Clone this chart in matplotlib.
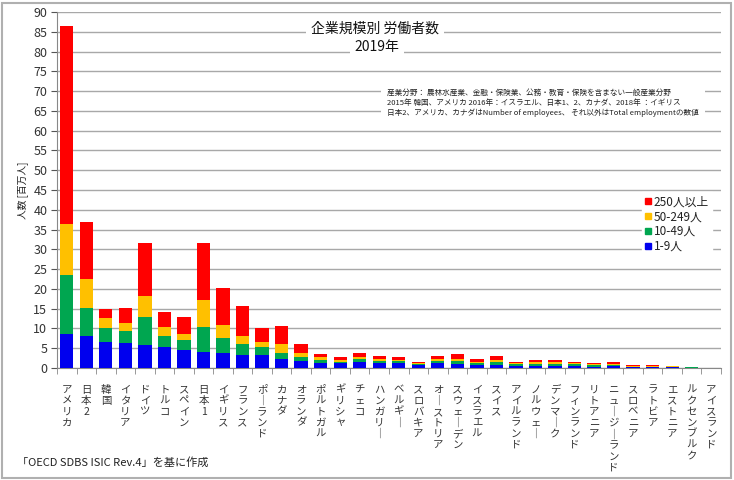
import matplotlib
matplotlib.use("Agg")
import matplotlib.pyplot as plt
from matplotlib.lines import Line2D
from matplotlib.patches import Rectangle
import numpy as np

plt.rcParams['font.family'] = ['Noto Sans CJK JP', 'DejaVu Sans']

# 国別（左から順）
countries = ["アメリカ", "日本2", "韓国", "イタリア", "ドイツ", "トルコ", "スペイン", "日本1",
             "イギリス", "フランス", "ポーランド", "カナダ", "オランダ", "ポルトガル", "ギリシャ",
             "チェコ", "ハンガリー", "ベルギー", "スロバキア", "オーストリア", "スウェーデン",
             "イスラエル", "スイス", "アイルランド", "ノルウェー", "デンマーク", "フィンランド",
             "リトアニア", "ニュージーランド", "スロベニア", "ラトビア", "エストニア",
             "ルクセンブルク", "アイスランド"]

# 百万人
size_1_9 = [8.7, 8.1, 6.6, 6.2, 5.8, 5.3, 4.5, 4.1, 3.7, 3.3, 3.3, 2.2, 1.7, 1.35, 1.2,
            1.4, 1.3, 1.2, 0.85, 1.2, 1.0, 0.85, 0.85, 0.6, 0.6, 0.6, 0.5, 0.35, 0.4,
            0.2, 0.2, 0.15, 0.08, 0.0]
size_10_49 = [14.9, 7.1, 3.4, 3.2, 7.2, 2.8, 2.7, 6.3, 3.8, 2.7, 1.9, 1.5, 1.2, 0.75, 0.4,
              0.8, 0.5, 0.5, 0.2, 0.5, 0.8, 0.4, 0.6, 0.4, 0.5, 0.5, 0.4, 0.35, 0.4,
              0.15, 0.15, 0.15, 0.08, 0.0]
size_50_249 = [12.8, 7.2, 2.7, 2.0, 5.2, 2.3, 1.4, 6.8, 3.3, 2.1, 1.4, 2.3, 1.0, 0.6, 0.4,
               0.5, 0.4, 0.3, 0.2, 0.5, 0.6, 0.3, 0.6, 0.3, 0.4, 0.4, 0.3, 0.3, 0.3,
               0.15, 0.15, 0.1, 0.07, 0.0]
size_250 = [50.1, 14.6, 2.3, 3.8, 13.3, 3.8, 4.3, 14.3, 9.3, 7.6, 3.4, 4.6, 2.2, 0.9, 0.7,
            1.1, 0.8, 0.9, 0.3, 0.8, 1.2, 0.6, 0.9, 0.3, 0.4, 0.4, 0.4, 0.2, 0.3,
            0.2, 0.15, 0.1, 0.1, 0.0]

series = [("1-9人", size_1_9, "#0000ee"),
          ("10-49人", size_10_49, "#00a650"),
          ("50-249人", size_50_249, "#ffc000"),
          ("250人以上", size_250, "#ff0000")]


def tate(s):
    # 縦書き風：1文字ずつ改行、長音は縦棒に
    return "\n".join("｜" if c == "ー" else c for c in s)


fig = plt.figure(figsize=(7.34, 4.8), dpi=100)
ax = fig.add_axes([57 / 734, 1 - 368 / 480, (721 - 57) / 734, (368 - 12) / 480])

x = np.arange(len(countries))
bottom = np.zeros(len(countries))
for name, vals, col in series:
    ax.bar(x, vals, 0.68, bottom=bottom, color=col, zorder=3)
    bottom += np.array(vals)

ax.set_xlim(-0.5, len(countries) - 0.5)
ax.set_ylim(0, 90)
ax.set_yticks(np.arange(0, 91, 5))
ax.grid(axis="y", color="#a8a8a8", linewidth=1.0, zorder=0)
ax.tick_params(axis="y", labelsize=9, colors="#555555", labelcolor="#333333", length=4, pad=3)

ax.set_xticks(x)
ax.set_xticklabels([tate(c) for c in countries], fontsize=7.5, color="#333333",
                   linespacing=1.12, va="top")
ax.set_xticks(np.arange(-0.5, len(countries), 1), minor=True)
ax.tick_params(axis="x", which="major", length=0, pad=12)
ax.tick_params(axis="x", which="minor", length=4, color="#888888")

for s in ["top", "right"]:
    ax.spines[s].set_visible(False)
ax.spines["left"].set_color("#888888")
ax.spines["bottom"].set_color("#888888")

ax.set_ylabel("人数 [百万人]", fontsize=7, color="#222222", labelpad=4)

# タイトル
fig.text(375 / 734, 1 - 29 / 480, "企業規模別 労働者数", ha="center", va="center",
         fontsize=10, color="#111111",
         bbox=dict(boxstyle="square,pad=0.35", facecolor="white", edgecolor="none"))
fig.text(377 / 734, 1 - 47 / 480, "2019年", ha="center", va="center", fontsize=10,
         color="#111111",
         bbox=dict(boxstyle="square,pad=0.3", facecolor="white", edgecolor="none"))

note = ("産業分野： 農林水産業、金融・保険業、公務・教育・保険を含まない一般産業分野\n"
        "2015年 韓国、アメリカ 2016年：イスラエル、日本1、2、カナダ、2018年 ：イギリス\n"
        "日本2、アメリカ、カナダはNumber of employees、 それ以外はTotal employmentの数値")
fig.text(387 / 734, 1 - 103 / 480, note, ha="left", va="center", fontsize=5.5,
         color="#222222", linespacing=1.3,
         bbox=dict(boxstyle="square,pad=0.8", facecolor="white", edgecolor="none"))

handles = [Line2D([], [], marker="s", linestyle="none", markersize=4,
                  markerfacecolor=col, markeredgecolor=col) for _, _, col in series[::-1]]
labels = [name for name, _, _ in series[::-1]]
leg = ax.legend(handles, labels, loc="upper left", bbox_to_anchor=(636 / 734, 1 - 186 / 480),
                bbox_transform=fig.transFigure, frameon=True, fancybox=False,
                edgecolor="white", facecolor="white", framealpha=1, fontsize=8.5,
                handlelength=0.5, handletextpad=0.2, labelspacing=0.15, borderpad=0.3)
for t in leg.get_texts():
    t.set_color("#222222")

fig.text(17 / 734, 1 - 462 / 480, "「OECD SDBS ISIC Rev.4」を基に作成", ha="left",
         va="center", fontsize=8, color="#222222")

fig.patches.append(Rectangle((2 / 734, 2 / 480), 729 / 734, 475 / 480,
                             transform=fig.transFigure, fill=False,
                             edgecolor="#b0b0b0", linewidth=1.5))

fig.savefig("out.png", dpi=100)
